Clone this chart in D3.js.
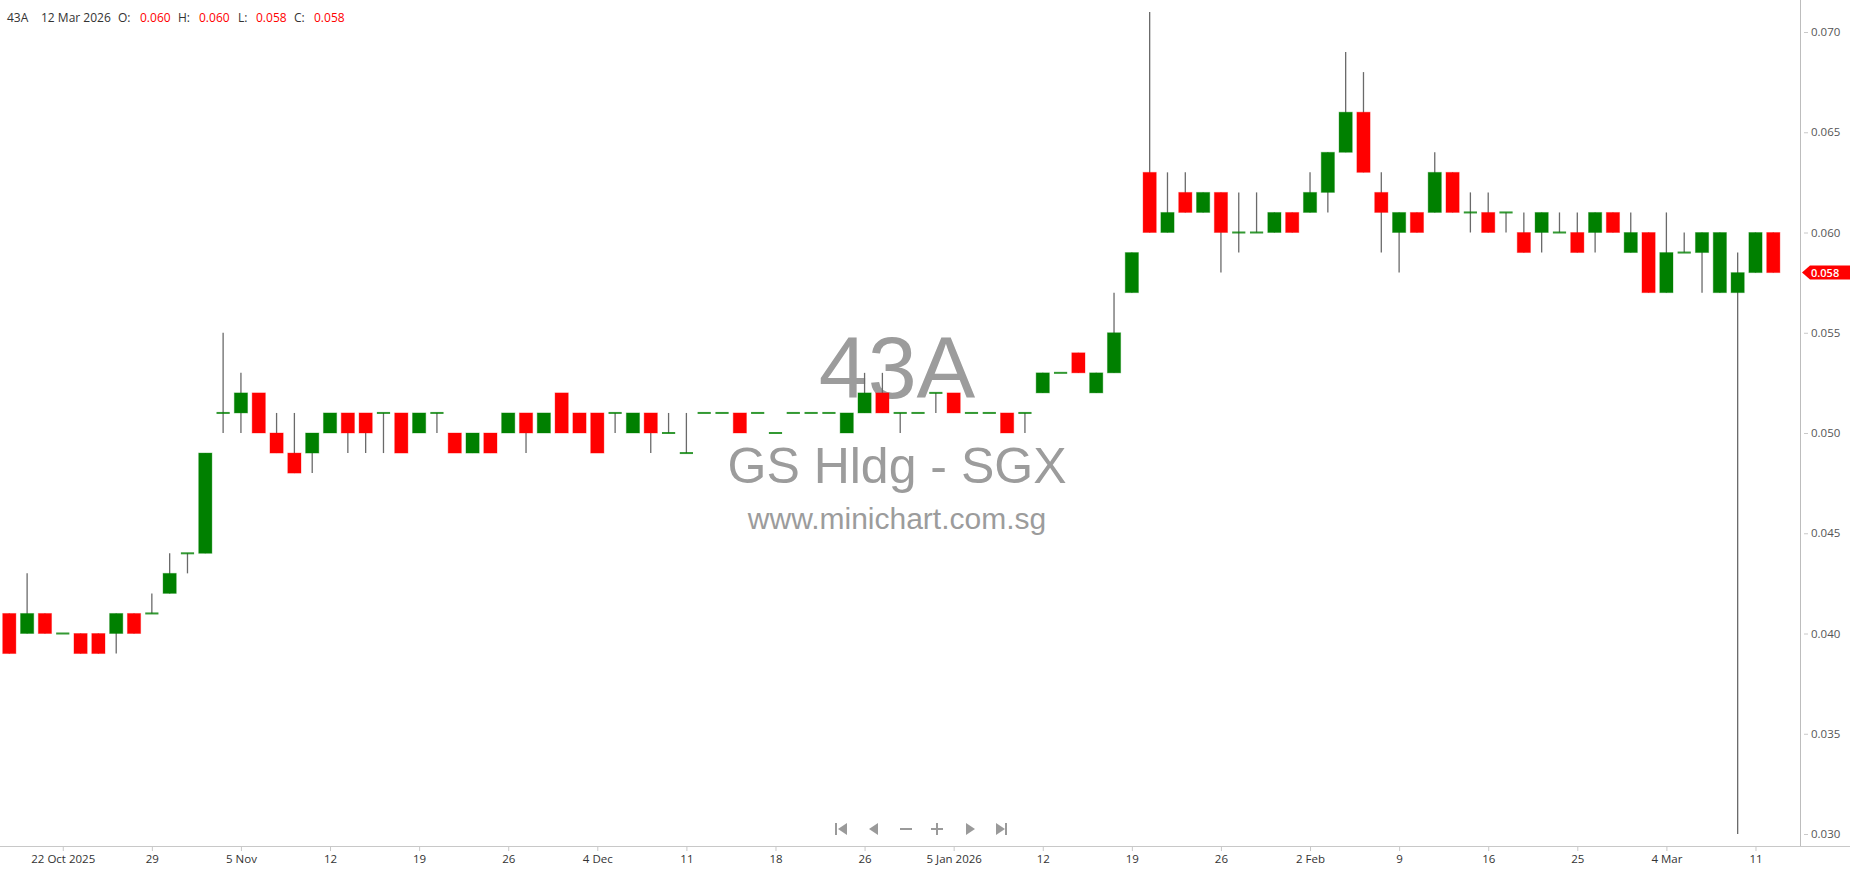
<!DOCTYPE html>
<html>
<head>
<meta charset="utf-8">
<title>43A - GS Hldg - SGX</title>
<script src="https://cdn.jsdelivr.net/npm/d3@7"></script>
<style>
  html, body { margin: 0; padding: 0; background: #fff; }
  svg { display: block; }
</style>
</head>
<body>
<svg id="chart" width="1850" height="874"></svg>
<script>
// Daily OHLC for 43A (GS Hldg), SGX
const dates = [
  "2025-10-16","2025-10-17","2025-10-21","2025-10-22","2025-10-23","2025-10-24","2025-10-27","2025-10-28","2025-10-29","2025-10-30",
  "2025-10-31","2025-11-03","2025-11-04","2025-11-05","2025-11-06","2025-11-07","2025-11-10","2025-11-11","2025-11-12","2025-11-13",
  "2025-11-14","2025-11-17","2025-11-18","2025-11-19","2025-11-20","2025-11-21","2025-11-24","2025-11-25","2025-11-26","2025-11-27",
  "2025-11-28","2025-12-01","2025-12-02","2025-12-04","2025-12-05","2025-12-08","2025-12-09","2025-12-10","2025-12-11","2025-12-12",
  "2025-12-15","2025-12-16","2025-12-17","2025-12-18","2025-12-19","2025-12-22","2025-12-23","2025-12-24","2025-12-26","2025-12-29",
  "2025-12-30","2025-12-31","2026-01-02","2026-01-05","2026-01-06","2026-01-07","2026-01-08","2026-01-09","2026-01-12","2026-01-13",
  "2026-01-14","2026-01-15","2026-01-16","2026-01-19","2026-01-20","2026-01-21","2026-01-22","2026-01-23","2026-01-26","2026-01-27",
  "2026-01-28","2026-01-29","2026-01-30","2026-02-02","2026-02-03","2026-02-04","2026-02-05","2026-02-06","2026-02-09","2026-02-10",
  "2026-02-11","2026-02-12","2026-02-13","2026-02-16","2026-02-19","2026-02-20","2026-02-23","2026-02-24","2026-02-25","2026-02-26",
  "2026-02-27","2026-03-02","2026-03-03","2026-03-04","2026-03-05","2026-03-06","2026-03-09","2026-03-10","2026-03-11","2026-03-12"
];

const opens = [
  0.041,0.040,0.041,0.040,0.040,0.040,0.040,0.041,0.041,0.042,
  0.044,0.044,0.051,0.051,0.052,0.050,0.049,0.049,0.050,0.051,
  0.051,0.051,0.051,0.050,0.051,0.050,0.049,0.050,0.050,0.051,
  0.050,0.052,0.051,0.051,0.051,0.050,0.051,0.050,0.049,0.051,
  0.051,0.051,0.051,0.050,0.051,0.051,0.051,0.050,0.051,0.052,
  0.051,0.051,0.052,0.052,0.051,0.051,0.051,0.051,0.052,0.053,
  0.054,0.052,0.053,0.057,0.063,0.060,0.062,0.061,0.062,0.060,
  0.060,0.060,0.061,0.061,0.062,0.064,0.066,0.062,0.060,0.061,
  0.061,0.063,0.061,0.061,0.061,0.060,0.060,0.060,0.060,0.060,
  0.061,0.059,0.060,0.057,0.059,0.059,0.057,0.057,0.058,0.060
];

const highs = [
  0.041,0.043,0.041,0.040,0.040,0.040,0.041,0.041,0.042,0.044,
  0.044,0.049,0.055,0.053,0.052,0.051,0.051,0.050,0.051,0.051,
  0.051,0.051,0.051,0.051,0.051,0.050,0.050,0.050,0.051,0.051,
  0.051,0.052,0.051,0.051,0.051,0.051,0.051,0.051,0.051,0.051,
  0.051,0.051,0.051,0.050,0.051,0.051,0.051,0.051,0.053,0.053,
  0.051,0.051,0.052,0.052,0.051,0.051,0.051,0.051,0.053,0.053,
  0.054,0.053,0.057,0.059,0.071,0.063,0.063,0.062,0.062,0.062,
  0.062,0.061,0.061,0.063,0.064,0.069,0.068,0.063,0.061,0.061,
  0.064,0.063,0.062,0.062,0.061,0.061,0.061,0.061,0.061,0.061,
  0.061,0.061,0.060,0.061,0.060,0.060,0.060,0.059,0.060,0.060
];

const lows = [
  0.039,0.040,0.040,0.040,0.039,0.039,0.039,0.040,0.041,0.042,
  0.043,0.044,0.050,0.050,0.050,0.049,0.048,0.048,0.050,0.049,
  0.049,0.049,0.049,0.050,0.050,0.049,0.049,0.049,0.050,0.049,
  0.050,0.050,0.050,0.049,0.050,0.050,0.049,0.050,0.049,0.051,
  0.051,0.050,0.051,0.050,0.051,0.051,0.051,0.050,0.051,0.051,
  0.050,0.051,0.051,0.051,0.051,0.051,0.050,0.050,0.052,0.053,
  0.053,0.052,0.053,0.057,0.060,0.060,0.061,0.061,0.058,0.059,
  0.060,0.060,0.060,0.061,0.061,0.064,0.063,0.059,0.058,0.060,
  0.061,0.061,0.060,0.060,0.060,0.059,0.059,0.060,0.059,0.059,
  0.060,0.059,0.057,0.057,0.059,0.057,0.057,0.030,0.058,0.058
];

const closes = [
  0.039,0.041,0.040,0.040,0.039,0.039,0.041,0.040,0.041,0.043,
  0.044,0.049,0.051,0.052,0.050,0.049,0.048,0.050,0.051,0.050,
  0.050,0.051,0.049,0.051,0.051,0.049,0.050,0.049,0.051,0.050,
  0.051,0.050,0.050,0.049,0.051,0.051,0.050,0.050,0.049,0.051,
  0.051,0.050,0.051,0.050,0.051,0.051,0.051,0.051,0.052,0.051,
  0.051,0.051,0.052,0.051,0.051,0.051,0.050,0.051,0.053,0.053,
  0.053,0.053,0.055,0.059,0.060,0.061,0.061,0.062,0.060,0.060,
  0.060,0.061,0.060,0.062,0.064,0.066,0.063,0.061,0.061,0.060,
  0.063,0.061,0.061,0.060,0.061,0.059,0.061,0.060,0.059,0.061,
  0.060,0.060,0.057,0.059,0.059,0.060,0.060,0.058,0.060,0.058
];

// Date axis ticks (every fifth session) and their labels
const xTickDates = [
  "2025-10-22","2025-10-29","2025-11-05","2025-11-12","2025-11-19","2025-11-26","2025-12-04","2025-12-11","2025-12-18","2025-12-26",
  "2026-01-05","2026-01-12","2026-01-19","2026-01-26","2026-02-02","2026-02-09","2026-02-16","2026-02-25","2026-03-04","2026-03-11"
];
const xTickLabels = [
  "22 Oct 2025","29","5 Nov","12","19","26","4 Dec","11","18","26",
  "5 Jan 2026","12","19","26","2 Feb","9","16","25","4 Mar","11"
];
const yTicks = [0.030, 0.035, 0.040, 0.045, 0.050, 0.055, 0.060, 0.065, 0.070];

const symbol = "43A";
const companyName = "GS Hldg - SGX";
const siteName = "www.minichart.com.sg";

// ---------------------------------------------------------------------------
const W = 1850, H = 874;
const plotRight = 1800;   // price axis line
const axisY = 846;        // date axis line
const UP = "#008000", DOWN = "#ff0000";

const candles = dates.map((d, i) => ({
  date: d, open: opens[i], high: highs[i], low: lows[i], close: closes[i]
}));

const svg = d3.select("#chart");

const x = d3.scalePoint().domain(dates).range([9.3, 1773.3]);
const y = d3.scaleLinear().domain([0.030, 0.070]).range([834, 32]);
const bodyW = 13.2;

// Watermark
const wm = svg.append("g")
  .attr("font-family", "'Liberation Sans', Arial, sans-serif")
  .attr("fill", "#9c9c9c")
  .attr("text-anchor", "middle");
wm.append("text").attr("x", 897).attr("y", 398).attr("font-size", 88).text(symbol);
wm.append("text").attr("x", 897).attr("y", 483).attr("font-size", 50).text(companyName);
wm.append("text").attr("x", 897).attr("y", 529).attr("font-size", 30).text(siteName);

// Candles
const cg = svg.append("g");

cg.selectAll("line.wick")
  .data(candles.filter(c => c.high !== c.low))
  .join("line")
  .attr("class", "wick")
  .attr("x1", c => x(c.date)).attr("x2", c => x(c.date))
  .attr("y1", c => y(c.high)).attr("y2", c => y(c.low))
  .attr("stroke", "#6a6a6a")
  .attr("stroke-width", 1.3);

cg.selectAll("rect.body")
  .data(candles.filter(c => c.open !== c.close))
  .join("rect")
  .attr("class", "body")
  .attr("x", c => x(c.date) - bodyW / 2)
  .attr("width", bodyW)
  .attr("y", c => y(Math.max(c.open, c.close)))
  .attr("height", c => y(Math.min(c.open, c.close)) - y(Math.max(c.open, c.close)))
  .attr("fill", c => c.close > c.open ? UP : DOWN)
  .attr("stroke", c => c.close > c.open ? UP : DOWN)
  .attr("stroke-opacity", 0.35)
  .attr("stroke-width", 1);

cg.selectAll("rect.doji")
  .data(candles.filter(c => c.open === c.close))
  .join("rect")
  .attr("class", "doji")
  .attr("x", c => x(c.date) - bodyW / 2)
  .attr("width", bodyW)
  .attr("y", c => y(c.open) - 1)
  .attr("height", 2)
  .attr("fill", UP)
  .attr("fill-opacity", 0.8);

// Date axis
svg.append("line")
  .attr("x1", 0).attr("x2", W).attr("y1", axisY + 0.5).attr("y2", axisY + 0.5)
  .attr("stroke", "#c8c8c8");

const xAxis = svg.append("g")
  .attr("transform", `translate(0,${axisY})`)
  .call(d3.axisBottom(x)
    .tickValues(xTickDates)
    .tickFormat((d, i) => xTickLabels[i])
    .tickSize(5)
    .tickPadding(4));
xAxis.select(".domain").remove();
xAxis.selectAll(".tick line").attr("stroke", "#c8c8c8");
xAxis.selectAll(".tick text")
  .attr("fill", "#333")
  .attr("font-family", "'Open Sans', sans-serif")
  .attr("font-size", 11.5);

// Price axis
svg.append("line")
  .attr("x1", plotRight + 0.5).attr("x2", plotRight + 0.5)
  .attr("y1", 0).attr("y2", axisY)
  .attr("stroke", "#bdbdbd");

const yAxis = svg.append("g")
  .attr("transform", `translate(${plotRight + 4},0)`)
  .call(d3.axisRight(y)
    .tickValues(yTicks)
    .tickFormat(d3.format(".3f"))
    .tickSize(4)
    .tickPadding(3));
yAxis.select(".domain").remove();
yAxis.selectAll(".tick line").attr("stroke", "#c8c8c8");
yAxis.selectAll(".tick text")
  .attr("fill", "#555")
  .attr("font-family", "'Open Sans', sans-serif")
  .attr("font-size", 11.5);

// Last price tag
const last = candles[candles.length - 1];
const ty = y(last.close);
const tag = svg.append("g");
tag.append("path")
  .attr("d", `M${plotRight + 2},${ty} L${plotRight + 10},${ty - 7} L${W},${ty - 7} L${W},${ty + 7} L${plotRight + 10},${ty + 7} Z`)
  .attr("fill", DOWN);
tag.append("text")
  .attr("x", plotRight + 11).attr("y", ty + 4)
  .attr("fill", "#fff")
  .attr("font-family", "'Open Sans', sans-serif")
  .attr("font-size", 11)
  .attr("font-weight", 600)
  .text(d3.format(".3f")(last.close));

// Header: symbol, date and OHLC of the latest session
const fmtDate = d3.timeFormat("%-d %b %Y");
const hdr = svg.append("g")
  .attr("font-family", "'Open Sans', sans-serif")
  .attr("font-size", 12);
const hdrItems = [
  { x: 7,   t: symbol, c: "#333" },
  { x: 41,  t: fmtDate(d3.timeParse("%Y-%m-%d")(last.date)), c: "#333" },
  { x: 118, t: "O:", c: "#333" },
  { x: 140, t: d3.format(".3f")(last.open), c: DOWN },
  { x: 178, t: "H:", c: "#333" },
  { x: 199, t: d3.format(".3f")(last.high), c: DOWN },
  { x: 238, t: "L:", c: "#333" },
  { x: 256, t: d3.format(".3f")(last.low), c: DOWN },
  { x: 294, t: "C:", c: "#333" },
  { x: 314, t: d3.format(".3f")(last.close), c: DOWN }
];
hdr.selectAll("text").data(hdrItems).join("text")
  .attr("x", d => d.x).attr("y", 22)
  .attr("fill", d => d.c)
  .text(d => d.t);

// Navigation controls
const nav = svg.append("g").attr("fill", "#9a9a9a");
const ny = 829;
// first
nav.append("rect").attr("x", 835).attr("y", ny - 6).attr("width", 2).attr("height", 12);
nav.append("path").attr("d", `M838,${ny} L847,${ny - 6} L847,${ny + 6} Z`);
// previous
nav.append("path").attr("d", `M869,${ny} L878,${ny - 6} L878,${ny + 6} Z`);
// zoom out
nav.append("rect").attr("x", 900).attr("y", ny - 1).attr("width", 12).attr("height", 2);
// zoom in
nav.append("rect").attr("x", 931).attr("y", ny - 1).attr("width", 12).attr("height", 2);
nav.append("rect").attr("x", 936).attr("y", ny - 6).attr("width", 2).attr("height", 12);
// next
nav.append("path").attr("d", `M975,${ny} L966,${ny - 6} L966,${ny + 6} Z`);
// last
nav.append("path").attr("d", `M1005,${ny} L996,${ny - 6} L996,${ny + 6} Z`);
nav.append("rect").attr("x", 1005).attr("y", ny - 6).attr("width", 2).attr("height", 12);
</script>
</body>
</html>
